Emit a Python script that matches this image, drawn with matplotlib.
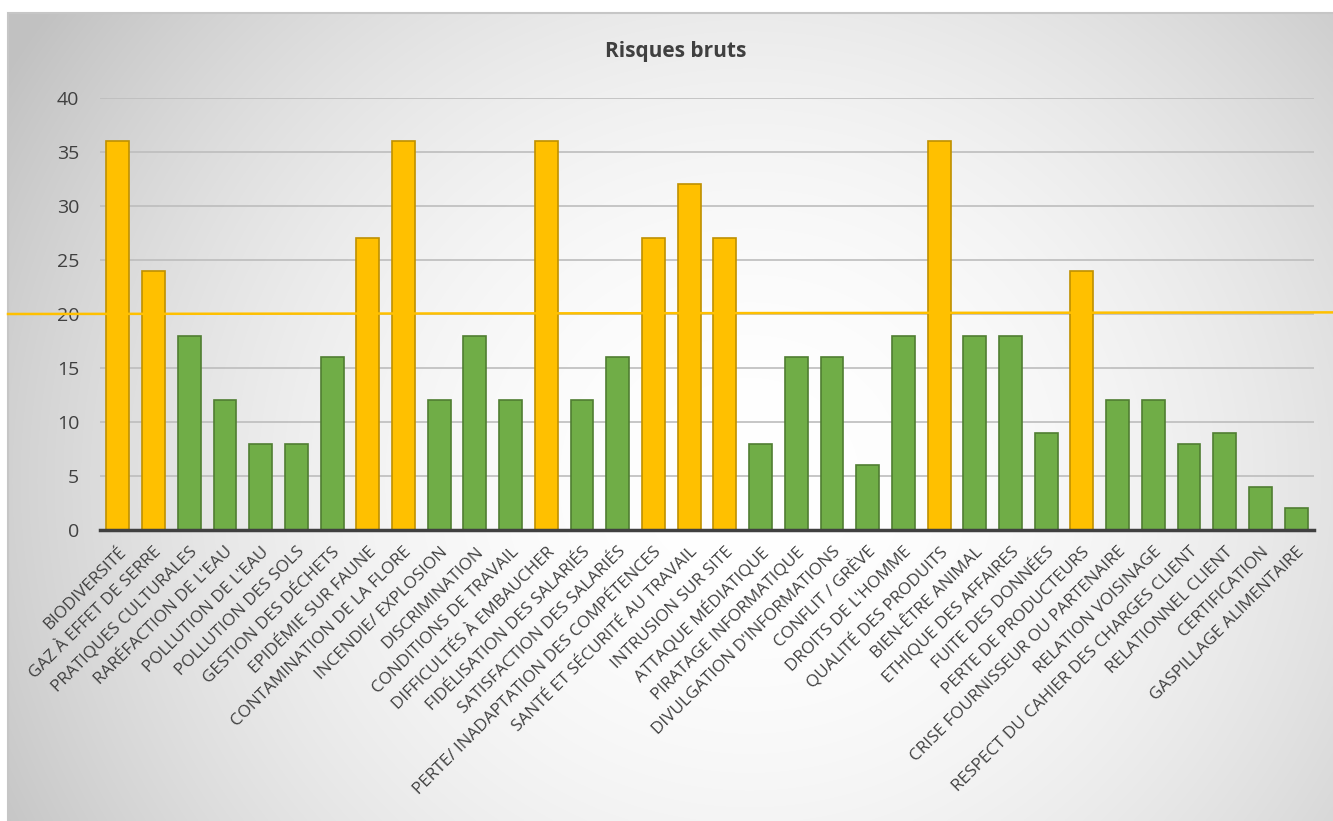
import numpy as np
import matplotlib
matplotlib.use("Agg")
import matplotlib.pyplot as plt
from matplotlib.transforms import blended_transform_factory
from matplotlib.patches import Rectangle

plt.rcParams['font.family'] = ['Open Sans', 'DejaVu Sans']

categories = [
    "BIODIVERSITÉ", "GAZ À EFFET DE SERRE", "PRATIQUES CULTURALES",
    "RARÉFACTION DE L'EAU", "POLLUTION DE L'EAU", "POLLUTION DES SOLS",
    "GESTION DES DÉCHETS", "EPIDÉMIE SUR FAUNE", "CONTAMINATION DE LA FLORE",
    "INCENDIE/ EXPLOSION", "DISCRIMINATION", "CONDITIONS DE TRAVAIL",
    "DIFFICULTÉS À EMBAUCHER", "FIDÉLISATION DES SALARIÉS",
    "SATISFACTION DES SALARIÉS", "PERTE/ INADAPTATION DES COMPÉTENCES",
    "SANTÉ ET SÉCURITÉ AU TRAVAIL", "INTRUSION SUR SITE", "ATTAQUE MÉDIATIQUE",
    "PIRATAGE INFORMATIQUE", "DIVULGATION D'INFORMATIONS", "CONFLIT / GRÈVE",
    "DROITS DE L'HOMME", "QUALITÉ DES PRODUITS", "BIEN-ÊTRE ANIMAL",
    "ETHIQUE DES AFFAIRES", "FUITE DES DONNÉES", "PERTE DE PRODUCTEURS",
    "CRISE FOURNISSEUR OU PARTENAIRE", "RELATION VOISINAGE",
    "RESPECT DU CAHIER DES CHARGES CLIENT", "RELATIONNEL CLIENT",
    "CERTIFICATION", "GASPILLAGE ALIMENTAIRE",
]
values = [36, 24, 18, 12, 8, 8, 16, 27, 36, 12, 18, 12, 36, 12, 16, 27, 32,
          27, 8, 16, 16, 6, 18, 36, 18, 18, 9, 24, 12, 12, 8, 9, 4, 2]
threshold = 20
yticks = [0, 5, 10, 15, 20, 25, 30, 35, 40]
title = "Risques bruts"

W, H = 1333, 821
fig = plt.figure(figsize=(W / 100, H / 100), dpi=100)
fig.patch.set_facecolor('white')

# background gradient panel
x0, y0 = 8, 13
bg = fig.add_axes([x0 / W, 0, 1 - x0 / W, (H - y0) / H], zorder=-10)
ny, nx = 400, 650
u = np.linspace(0, 1, nx)[None, :]
v = np.linspace(0, 1, ny)[:, None]
d = np.sqrt(((u - 0.56) / 0.65) ** 2 + ((v - 0.42) / 1.0) ** 2)
d = np.clip(d, 0, 1)
g = 1 - 0.24 * d ** 2
img = np.dstack([g, g, g])
bg.imshow(img, aspect='auto', origin='lower', extent=[0, 1, 0, 1], interpolation='bilinear')
bg.set_xlim(0, 1); bg.set_ylim(0, 1)
bg.axis('off')
fig.patches.append(Rectangle((x0 / W, -0.01), 1.02 - x0 / W, (H - y0) / H + 0.01,
                             transform=fig.transFigure, fill=False,
                             edgecolor='#c6c6c6', linewidth=1.5, zorder=-5))

left, right = 100, 1314
top, bottom = 98, 530
ax = fig.add_axes([left / W, 1 - bottom / H, (right - left) / W, (bottom - top) / H])
ax.patch.set_alpha(0)

x = np.arange(len(values))
face = ['#FFC000' if val > threshold else '#70AD47' for val in values]
edge = ['#BF9000' if val > threshold else '#507E32' for val in values]
ax.bar(x, values, width=0.64, color=face, edgecolor=edge, linewidth=1.2, zorder=3)

ax.set_xlim(-0.5, len(values) - 0.5)
ax.set_ylim(0, 40)
ax.set_yticks(yticks)
ax.yaxis.grid(True, color='#bdbdbd', linewidth=1.2, zorder=0)
ax.set_axisbelow(True)
for s in ['top', 'right', 'left']:
    ax.spines[s].set_visible(False)
ax.spines['bottom'].set_color('#404040')
ax.spines['bottom'].set_linewidth(2.5)
ax.spines['bottom'].set_zorder(4)
ax.tick_params(axis='y', length=0, pad=15, labelsize=14, labelcolor='#404040')
ax.tick_params(axis='x', length=0, pad=10, labelsize=12.3, labelcolor='#404040')
ax.set_xticks(x)
ax.set_xticklabels(categories, rotation=45, ha='right', va='top', rotation_mode='anchor')

# threshold line across whole chart area
tr = blended_transform_factory(fig.transFigure, ax.transData)
ax.plot([x0 / W, 1.0], [threshold, threshold + 0.15], transform=tr, color='#FFC000',
        linewidth=1.8, clip_on=False, zorder=5)

fig.text(676 / W, 1 - 52 / H, title, ha='center', va='center', fontsize=15,
         fontweight='bold', color='#404040')

fig.savefig('out.png', dpi=100)
